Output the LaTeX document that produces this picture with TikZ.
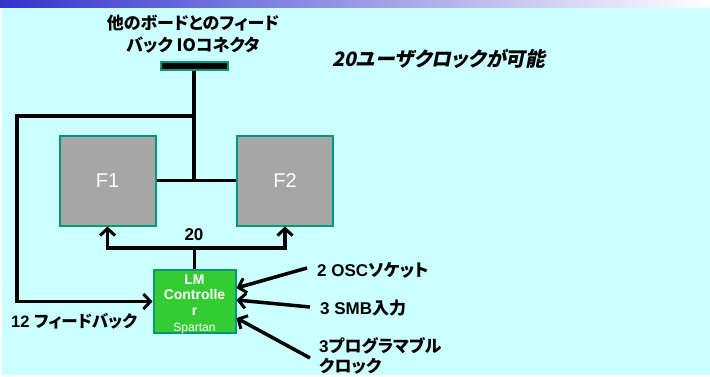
\documentclass[tikz,border=0pt]{standalone}
\usepackage{fontspec}
\setmainfont{Liberation Sans}
\newfontfamily\jp{Noto Sans CJK JP}[RawFeature=+palt]
\newfontfamily\jpsl{Noto Sans CJK JP}[RawFeature=+palt, FakeSlant=0.2, BoldFeatures={FakeSlant=0.2}]
\usetikzlibrary{arrows.meta}
\definecolor{bgc}{HTML}{CCFFFF}
\definecolor{bordc}{HTML}{009977}
\definecolor{fgray}{HTML}{A6A6A6}
\definecolor{lmgreen}{HTML}{33CC33}
\definecolor{topblue}{HTML}{3333CC}
\tikzset{
  fbox/.style={draw=bordc, line width=2pt, fill=fgray, minimum width=96pt, minimum height=90pt,
    text=white, font=\fontsize{20}{24}\selectfont, inner sep=0pt},
  lmbox/.style={draw=bordc, line width=2pt, fill=lmgreen, minimum width=82pt, minimum height=63pt,
    inner sep=0pt},
  lmtext/.style={text=white, align=center, inner sep=0pt, font=\bfseries\fontsize{14}{15.5}\selectfont},
  connbox/.style={draw=bordc, line width=2pt, fill=black, minimum width=67pt, minimum height=8pt, inner sep=0pt},
  wire/.style={line width=3.5pt, draw=black},
  tip/.style={-{Straight Barb[length=7pt,width=15pt,line width=3pt]}},
  lbl/.style={font=\bfseries\fontsize{17}{20}\selectfont, inner sep=2pt},
}
\begin{document}
\begin{tikzpicture}[x=1pt,y=-1pt]
\useasboundingbox (0,0) rectangle (710,376);
\fill[white] (0,0) rectangle (710,376);
\fill[bgc] (2,7) rectangle (710,375);
\shade[left color=topblue, right color=white] (0,0) rectangle (710,7);

\node[font=\jp\bfseries\fontsize{17}{22}\selectfont, align=center] (ttl) at (193,34)
  {他のボードとのフィード\\バック IOコネクタ};
\node[connbox] (io) at (194,66) {};

\node[font=\jpsl\bfseries\fontsize{19.8}{22}\selectfont, anchor=west, inner sep=0pt] (uc) at (332,59)
  {20ユーザクロックが可能};

\node[fbox] (f1) at (107.5,180.5) {F1};
\node[fbox] (f2) at (285,180.5) {F2};

\node[lmbox] (lm) at (194.5,301.5) {};
\node[lmtext] (lmt) at ([yshift=-2.5pt]lm.center)
  {LM\\Controlle\\r\\[0.5pt]\mdseries\fontsize{12}{15.5}\selectfont Spartan};

\coordinate (tl) at (17,116);
\coordinate (bus) at (194,248);

\draw[wire] (f1.east) -- (f2.west);
\draw[wire] (io.south) -- (io.south |- f1.east);
\draw[wire,tip] (io.south |- tl) -- (tl) |- (lm.west);
\draw[wire] (lm.north) -- (lm.north |- bus);
\draw[wire,tip] (lm.north |- bus) -| (f1.south);
\draw[wire,tip] (lm.north |- bus) -| (f2.south);

\node[lbl] (n20) at (194,235) {20};

\node[lbl, anchor=west] (osc) at (315,270) {2 OSC{\jp ソケット}};
\node[lbl, anchor=west] (smb) at (318,308) {3 SMB{\jp 入力}};
\node[lbl, anchor=west, align=left, font=\jp\bfseries\fontsize{17}{20}\selectfont] (prg) at (317,356)
  {{\fontspec{Liberation Sans}3}プログラマブル\\クロック};
\node[lbl, anchor=west, font=\bfseries\fontsize{16.5}{20}\selectfont] (fb) at (9,321) {12 {\jp フィードバック}};

\draw[wire,tip] ([xshift=-8pt,yshift=2pt]osc.west) -- ([yshift=13.5pt]lm.east);
\draw[wire,tip] ([xshift=-8pt,yshift=1pt]smb.west) -- ([yshift=1.5pt]lm.east);
\draw[wire,tip] ([xshift=-7pt,yshift=-2pt]prg.west) -- ([yshift=-16.5pt]lm.east);
\end{tikzpicture}
\end{document}
